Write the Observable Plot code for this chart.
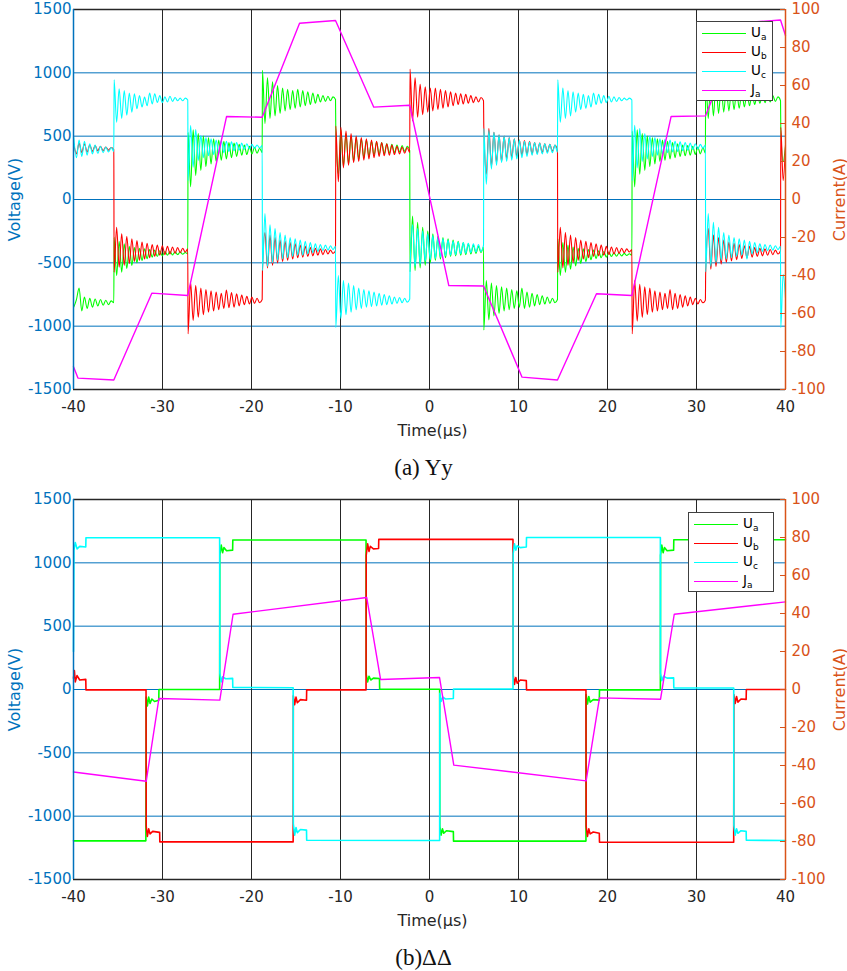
<!DOCTYPE html>
<html>
<head>
<meta charset="utf-8">
<script src="https://cdn.jsdelivr.net/npm/d3@7"></script>
<script src="https://cdn.jsdelivr.net/npm/@observablehq/plot@0.6"></script>
<style>
  html, body { margin: 0; padding: 0; background: #fff; }
  #wrap { width: 847px; }
  .panel { position: relative; width: 847px; height: 445px; }
  .panel svg { display: block; }
  .cap { height: 45px; line-height: 45px; text-align: center; font-family: "Liberation Serif", serif; font-size: 23px; color: #111; }
  .legend { position: absolute; box-sizing: border-box; background: #fff; border: 1px solid #404040; font-family: "DejaVu Sans", sans-serif; font-size: 13.5px; color: #000; }
  .legend .row { position: relative; height: 19px; }
  .legend .sw { position: absolute; left: 5px; top: 9px; width: 44px; height: 0; border-top: 1.4px solid #000; }
  .legend .lab { position: absolute; left: 54px; top: 1px; line-height: 15px; }
  .legend sub { font-size: 9px; vertical-align: -3px; }
</style>
</head>
<body>
<div id="wrap"></div>
<script>
// ---------- shared axis values ----------
const xTicks = [-40, -30, -20, -10, 0, 10, 20, 30, 40];
const vTicks = [-1500, -1000, -500, 0, 500, 1000, 1500];
const aTicks = [-100, -80, -60, -40, -20, 0, 20, 40, 60, 80, 100];
const vPerA = 15; // 100 A on the right axis lines up with 1500 V on the left
const seriesNames = ["a", "b", "c"];
const seriesColors = ["#00FF00", "#FF0000", "#00FFFF"];
const currentColor = "#FF00FF";

// ---------- panel (a) Yy : switching instants (µs) ----------
const tSwitchA = [-40, -35.47, -27.16, -18.80, -10.56, -2.22, 6.07, 14.38, 22.74, 31.0, 39.44, 40];

// voltage samples inside each switching interval (V)
const uaA = [
  [-850,-790,-700,-880,-770,-860,-780,-850,-785,-840,-790,-835,-795,-830,-800,-815],
  [-300,-600,-330,-574,-350,-547,-370,-521,-380,-500,-385,-482,-390,-468,-395,-455,-400,-450,-405,-445,-410,-440,-410,-438,-412,-435,-415,-432,-418,-430],
  [530,100,550,190,520,230,500,260,490,280,480,300,470,310,460,320,450,330,445,340,435,350,430,355,420,360,412,365,405,370],
  [1020,600,960,640,930,660,900,680,880,700,870,710,860,720,870,730,860,740,850,750,840,760,830,770,820,775,815,780,810,790],
  [560,200,550,260,520,280,500,300,490,320,480,330,470,340,460,350,455,355,450,360,440,365,435,370,430,375,425,380,420,385],
  [-570,-130,-560,-180,-540,-220,-520,-250,-500,-270,-480,-290,-470,-300,-460,-310,-450,-320,-445,-330,-440,-340,-435,-350,-430,-360,-425,-370,-420,-375],
  [-1030,-640,-950,-660,-920,-680,-900,-690,-880,-700,-870,-710,-860,-720,-850,-700,-860,-730,-850,-740,-840,-750,-830,-760,-825,-770,-820,-780,-815,-790],
  [-310,-600,-340,-575,-360,-550,-375,-525,-385,-505,-390,-490,-395,-475,-400,-465,-405,-460,-410,-455,-415,-450,-420,-448,-422,-445,-425,-442,-428,-440],
  [540,100,550,200,520,230,500,260,490,280,480,300,470,310,460,320,450,330,440,340,430,345,425,350,420,355,415,360,410,365],
  [1000,640,950,660,920,680,900,690,880,700,870,710,860,720,850,730,845,740,840,750,835,760,830,765,825,770,820,775,810,780],
  [560,300,420]
];
const ubA = [
  [440,360,445,370,440,375,430,380,425,385,420,385,415,390,410,395],
  [-574,-219,-535,-270,-520,-290,-505,-310,-490,-325,-480,-335,-470,-345,-460,-355,-450,-360,-440,-365,-435,-370,-430,-375,-425,-380,-420,-385,-415,-390],
  [-1060,-653,-955,-680,-930,-700,-910,-710,-890,-720,-880,-730,-870,-740,-860,-715,-855,-735,-850,-745,-840,-755,-830,-765,-825,-771,-820,-780,-815,-790],
  [-570,-260,-540,-280,-520,-300,-500,-320,-490,-330,-480,-340,-470,-350,-460,-360,-455,-370,-450,-380,-445,-385,-440,-390,-435,-395,-430,-400,-425,-405],
  [580,140,570,250,540,270,520,290,500,300,490,310,480,320,470,330,460,340,450,345,440,350,430,355,420,360,415,365,410,370],
  [1030,620,960,650,910,670,890,690,880,700,880,710,870,720,860,730,850,740,840,750,835,755,830,760,820,765,810,770,805,780],
  [580,200,560,260,530,290,510,300,500,320,490,330,480,340,470,350,465,355,460,360,450,365,445,370,440,375,435,380,430,385],
  [-575,-220,-540,-260,-520,-280,-500,-300,-480,-320,-470,-330,-460,-340,-450,-350,-445,-360,-440,-370,-435,-375,-430,-380,-425,-385,-420,-390,-415,-395],
  [-1060,-640,-960,-670,-930,-690,-910,-700,-890,-720,-880,-730,-870,-740,-860,-710,-870,-740,-860,-750,-850,-760,-840,-770,-830,-780,-825,-790,-815,-795],
  [-580,-230,-550,-280,-530,-300,-510,-320,-495,-335,-485,-345,-475,-355,-465,-365,-460,-370,-455,-380,-450,-385,-445,-390,-440,-395,-435,-400,-430,-405],
  [570,150,430]
];
const ucA = [
  [490,330,470,340,460,350,440,360,430,365,420,370,415,375,410,380],
  [945,610,874,640,860,666,840,690,834,716,820,730,808,740,840,755,835,766,820,765,810,770,815,775,805,780,800,780,800,785],
  [150,584,255,552,308,505,330,490,345,480,355,470,365,465,370,460,380,455,385,450,390,445,395,440,400,435,405,430,408,425],
  [-560,-110,-530,-200,-500,-230,-480,-260,-470,-280,-460,-300,-450,-310,-440,-320,-440,-330,-430,-340,-420,-350,-410,-355,-405,-360,-400,-365,-395,-370],
  [-1010,-600,-940,-640,-910,-660,-890,-680,-870,-700,-860,-710,-850,-720,-845,-730,-840,-740,-835,-750,-830,-760,-825,-770,-820,-775,-815,-780,-810,-785],
  [-560,-200,-530,-230,-510,-250,-490,-270,-475,-285,-465,-300,-455,-310,-445,-320,-440,-330,-435,-335,-430,-340,-425,-345,-420,-350,-415,-355,-410,-360],
  [560,120,545,240,530,270,510,290,500,300,490,310,480,320,470,330,460,340,455,350,450,355,445,360,440,365,435,370,430,375],
  [945,610,880,640,860,660,850,690,840,710,830,720,820,730,840,750,830,760,820,765,815,770,810,775,805,780,800,785,800,785],
  [150,585,250,560,300,520,320,500,340,490,350,480,360,475,370,470,375,460,380,455,385,450,390,445,395,440,400,435,405,430],
  [-570,-110,-530,-180,-500,-220,-480,-260,-470,-280,-460,-300,-450,-310,-440,-320,-470,-330,-430,-340,-420,-350,-410,-355,-405,-360,-400,-365,-395,-370],
  [-1010,-590,-780]
];
// current Ja (A): [time µs, current A]
const jaA = [[-40,-88],[-39.5,-94],[-35.47,-95],[-31.2,-49.3],[-27.16,-50.5],[-22.8,43.7],[-18.8,43.3],[-14.6,92.8],[-10.56,94.2],[-6.26,48.6],[-2.22,49.6],[2.17,-45.3],[6.07,-45.5],[10.4,-93.5],[14.38,-95],[18.76,-49.6],[22.74,-50.5],[27.15,43.7],[31.0,44],[35.2,93],[39.44,94.5],[40,86.3]];

// ---------- panel (b) ΔΔ : [time µs, voltage V] ----------
const uaB = [[-40,-1195],[-31.87,-1195],[-31.83,-60],[-31.7,-130],[-31.55,-60],[-31.4,-110],[-31.2,-75],[-30.9,-95],[-30.42,-85],[-30.4,0],[-23.58,0],[-23.56,1060],[-23.4,1140],[-23.25,1080],[-23.1,1120],[-22.8,1095],[-22.12,1100],[-22.1,1180],[-7.13,1180],[-7.11,120],[-6.95,60],[-6.8,105],[-6.6,75],[-6.3,90],[-5.62,87],[-5.6,2],[1.14,2],[1.16,-1080],[1.3,-1150],[1.45,-1100],[1.6,-1135],[1.9,-1115],[2.68,-1122],[2.7,-1197],[17.58,-1197],[17.6,-40],[17.75,-115],[17.9,-55],[18.05,-100],[18.4,-80],[19.08,-84],[19.1,-3],[25.94,-3],[25.96,1060],[26.1,1140],[26.25,1080],[26.4,1120],[26.7,1095],[27.43,1100],[27.45,1182],[40,1182]];
const ubB = [[-40,90],[-39.9,150],[-39.8,60],[-39.6,110],[-39.3,75],[-38.62,80],[-38.6,-3],[-31.85,-3],[-31.83,-1080],[-31.7,-1160],[-31.55,-1100],[-31.4,-1140],[-31.1,-1120],[-30.32,-1128],[-30.3,-1203],[-15.32,-1203],[-15.3,-50],[-15.15,-120],[-15.0,-60],[-14.85,-105],[-14.5,-80],[-13.82,-85],[-13.8,-3],[-7.13,-3],[-7.11,1060],[-6.95,1150],[-6.8,1090],[-6.65,1130],[-6.3,1110],[-5.72,1113],[-5.7,1185],[9.38,1185],[9.4,115],[9.55,40],[9.7,95],[9.85,50],[10.2,75],[10.88,70],[10.9,-3],[17.58,-3],[17.6,-1080],[17.75,-1160],[17.9,-1100],[18.05,-1140],[18.4,-1125],[19.08,-1135],[19.1,-1206],[34.18,-1206],[34.2,-40],[34.35,-110],[34.5,-55],[34.65,-100],[35.0,-75],[35.58,-78],[35.6,0],[40,0]];
const ucB = [[-40,300],[-39.95,1100],[-39.8,1160],[-39.6,1110],[-39.3,1130],[-38.62,1125],[-38.6,1198],[-23.58,1198],[-23.56,130],[-23.4,60],[-23.25,100],[-22.9,85],[-22.12,88],[-22.1,16],[-15.32,14],[-15.3,-1060],[-15.15,-1150],[-15.0,-1090],[-14.85,-1130],[-14.5,-1105],[-13.82,-1110],[-13.8,-1190],[1.14,-1192],[1.16,-30],[1.3,-95],[1.5,-60],[1.8,-75],[2.68,-71],[2.7,4],[9.38,4],[9.4,1070],[9.55,1150],[9.7,1100],[9.85,1135],[10.2,1120],[10.88,1125],[10.9,1200],[25.94,1200],[25.96,130],[26.1,70],[26.3,105],[26.7,90],[27.43,92],[27.45,13],[34.18,12],[34.2,-1070],[34.35,-1150],[34.5,-1100],[34.65,-1135],[35.0,-1115],[35.58,-1120],[35.6,-1190],[40,-1192]];
const jaB = [[-40,-43.4],[-31.83,-48.3],[-30.4,-4.7],[-23.56,-5.6],[-22.07,39.6],[-7.05,48.4],[-5.5,5.3],[1.13,6.3],[2.73,-39.8],[17.6,-48.1],[19.1,-4.4],[25.96,-5.1],[27.5,39.6],[40,46.1]];

// ---------- build tables ----------
function fromSegments(segs, tSwitch) {
  const pts = [];
  segs.forEach((seg, k) => {
    const t0 = tSwitch[k] + 0.03, t1 = tSwitch[k + 1];
    const n = seg.length;
    seg.forEach((v, i) => pts.push({t: t0 + i * (t1 - t0) / (n - 1), v}));
  });
  return pts;
}
const fromPairs = arr => arr.map(([t, v]) => ({t, v}));
const curPairs = arr => arr.map(([t, a]) => ({t, a}));

const panelA = {
  volt: [fromSegments(uaA, tSwitchA), fromSegments(ubA, tSwitchA), fromSegments(ucA, tSwitchA)],
  cur: curPairs(jaA),
  curve: "monotone-x",
  voltWidth: 1.1,
  caption: "(a) Yy",
  legend: {left: 696, top: 21, width: 77, height: 80}
};
const panelB = {
  volt: [fromPairs(uaB), fromPairs(ubB), fromPairs(ucB)],
  cur: curPairs(jaB),
  curve: "linear",
  voltWidth: 1.6,
  caption: "(b)ΔΔ",
  legend: {left: 688, top: 22, width: 86, height: 80}
};

const BLUE = "#0072BD", ORANGE = "#D95319", DARK = "#262626";

function makePlot(p) {
  return Plot.plot({
    width: 847, height: 445,
    marginLeft: 73, marginRight: 62, marginTop: 9, marginBottom: 56,
    x: {domain: [-40, 40]},
    y: {domain: [-1500, 1500]},
    style: {fontFamily: "DejaVu Sans, sans-serif", fontSize: "15px", background: "#fff", overflow: "visible"},
    marks: [
      Plot.ruleY(vTicks.slice(1, -1), {stroke: BLUE, strokeWidth: 1}),
      Plot.ruleX(xTicks.slice(1, -1), {stroke: DARK, strokeWidth: 1}),
      ...p.volt.map((d, i) => Plot.line(d, {x: "t", y: "v", stroke: seriesColors[i], strokeWidth: p.voltWidth, curve: p.curve})),
      Plot.line(p.cur, {x: "t", y: d => d.a * vPerA, stroke: currentColor, strokeWidth: 1.4}),
      Plot.ruleY([-1500, 1500], {stroke: DARK, strokeWidth: 1.5}),
      Plot.ruleX([-40], {stroke: BLUE, strokeWidth: 1.5}),
      Plot.ruleX([40], {stroke: ORANGE, strokeWidth: 1.5}),
      Plot.axisY(vTicks, {anchor: "left", tickSize: 0, tickPadding: 2, tickFormat: d => String(d), color: BLUE, label: null}),
      Plot.axisY(aTicks.map(a => a * vPerA), {anchor: "right", tickSize: 6, dx: -6, tickFormat: () => "", color: ORANGE, label: null}),
      Plot.axisY(aTicks.map(a => a * vPerA), {anchor: "right", tickSize: 0, tickPadding: 6, tickFormat: d => String(Math.round(d / vPerA)), color: ORANGE, label: null}),
      Plot.axisX(xTicks, {anchor: "bottom", tickSize: 0, tickPadding: 12, tickFormat: d => String(d), color: DARK, label: null}),
      Plot.text(["Voltage(V)"], {frameAnchor: "left", rotate: -90, dx: -59, fill: BLUE, fontSize: 16, textAnchor: "middle", lineAnchor: "middle"}),
      Plot.text(["Current(A)"], {frameAnchor: "right", rotate: -90, dx: 54, fill: ORANGE, fontSize: 16, textAnchor: "middle", lineAnchor: "middle"}),
      Plot.text(["Time(µs)"], {frameAnchor: "bottom", dy: 41, dx: 3, fill: DARK, fontSize: 16, textAnchor: "middle", lineAnchor: "middle"})
    ]
  });
}

const wrap = document.getElementById("wrap");
for (const p of [panelA, panelB]) {
  const div = document.createElement("div");
  div.className = "panel";
  div.appendChild(makePlot(p));
  const lg = document.createElement("div");
  lg.className = "legend";
  Object.assign(lg.style, {left: p.legend.left + "px", top: p.legend.top + "px", width: p.legend.width + "px", height: p.legend.height + "px", paddingTop: "2px"});
  const entries = seriesNames.map((n, i) => ({sym: "U", sub: n, color: seriesColors[i]}));
  entries.push({sym: "J", sub: "a", color: currentColor});
  for (const e of entries) {
    const row = document.createElement("div");
    row.className = "row";
    row.innerHTML = `<span class="sw" style="border-top-color:${e.color}"></span><span class="lab">${e.sym}<sub>${e.sub}</sub></span>`;
    lg.appendChild(row);
  }
  div.appendChild(lg);
  wrap.appendChild(div);
  const cap = document.createElement("div");
  cap.className = "cap";
  cap.textContent = p.caption;
  wrap.appendChild(cap);
}
</script>
</body>
</html>
